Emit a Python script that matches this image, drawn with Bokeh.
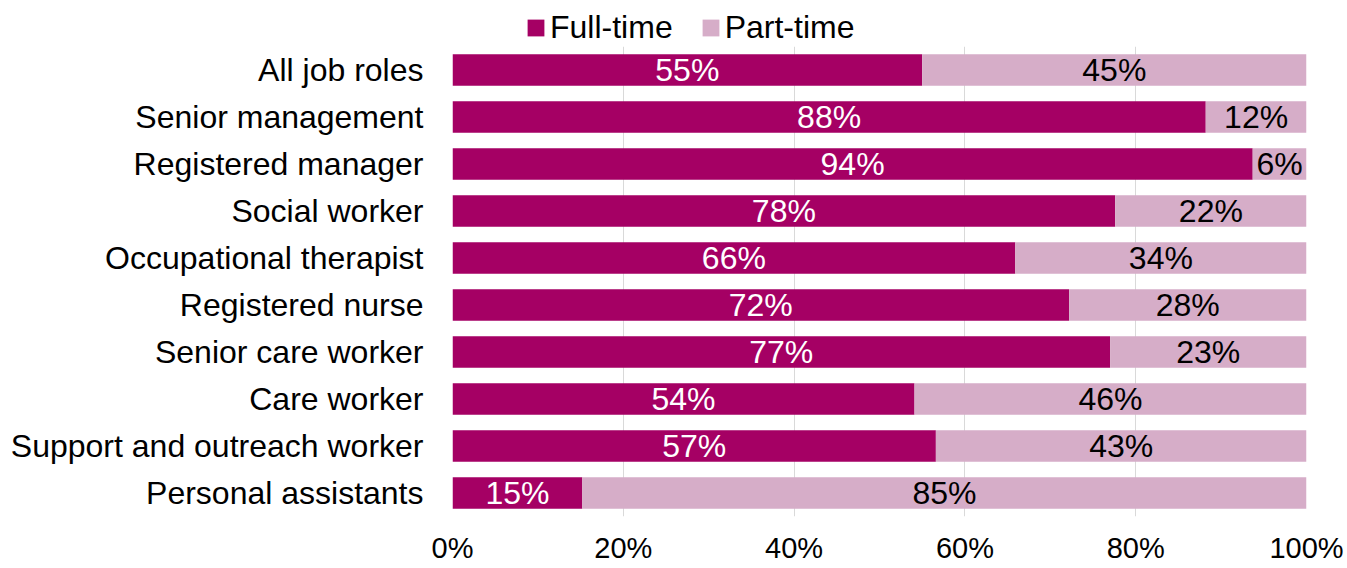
from bokeh.plotting import figure
from bokeh.layouts import column
from bokeh.models import FactorRange, Range1d, FixedTicker, Legend, LegendItem, ColumnDataSource
from bokeh.core.properties import value
from bokeh.embed import file_html
from bokeh.resources import INLINE

roles = ["All job roles", "Senior management", "Registered manager", "Social worker",
         "Occupational therapist", "Registered nurse", "Senior care worker", "Care worker",
         "Support and outreach worker", "Personal assistants"]
full_time = [55.0, 88.2, 93.7, 77.6, 65.9, 72.2, 77.0, 54.1, 56.6, 15.2]
part_time = [45.0, 11.8, 6.3, 22.4, 34.1, 27.8, 23.0, 45.9, 43.4, 84.8]
full_labels = ["55%", "88%", "94%", "78%", "66%", "72%", "77%", "54%", "57%", "15%"]
part_labels = ["45%", "12%", "6%", "22%", "34%", "28%", "23%", "46%", "43%", "85%"]
series_names = ["Full-time", "Part-time"]
tick_values = [0, 20, 40, 60, 80, 100]
tick_labels = ["0%", "20%", "40%", "60%", "80%", "100%"]

FULL_COLOR = "#A50064"
PART_COLOR = "#D6ADC8"
FONT = "Liberation Sans"

src = ColumnDataSource(dict(
    role=roles,
    ft_end=full_time,
    pt_end=[f + p for f, p in zip(full_time, part_time)],
    ft_mid=[f / 2 for f in full_time],
    pt_mid=[f + p / 2 for f, p in zip(full_time, part_time)],
    ft_lab=full_labels,
    pt_lab=part_labels,
))

# main chart
p = figure(width=1345, height=520, output_backend="svg", toolbar_location=None,
           y_range=FactorRange(factors=list(reversed(roles)), range_padding=0),
           x_range=Range1d(0, 100),
           min_border_left=452, min_border_right=39, min_border_top=0, min_border_bottom=44)
p.outline_line_color = None

p.hbar(y="role", left=0, right="ft_end", height=0.67, source=src,
       fill_color=FULL_COLOR, line_color=None)
p.hbar(y="role", left="ft_end", right="pt_end", height=0.67, source=src,
       fill_color=PART_COLOR, line_color=None)

p.text(x="ft_mid", y="role", text="ft_lab", source=src, text_align="center",
       text_baseline="middle", text_color="white", text_font=value(FONT), text_font_size="32px")
p.text(x="pt_mid", y="role", text="pt_lab", source=src, text_align="center",
       text_baseline="middle", text_color="black", text_font=value(FONT), text_font_size="32px")

p.xaxis.ticker = FixedTicker(ticks=tick_values)
p.xaxis.major_label_overrides = {v: l for v, l in zip(tick_values, tick_labels)}
for ax in (p.xaxis[0], p.yaxis[0]):
    ax.axis_line_color = None
    ax.major_tick_line_color = None
    ax.minor_tick_line_color = None
    ax.major_tick_in = 0
    ax.major_tick_out = 0
    ax.major_label_text_font = FONT
    ax.major_label_text_color = "black"
p.xaxis.major_label_text_font_size = "29px"
p.xaxis.major_label_standoff = 15
p.yaxis.major_label_text_font_size = "32px"
p.yaxis.major_label_standoff = 29

p.xgrid.grid_line_color = "#D9D9D9"
p.xgrid.grid_line_width = 1
p.ygrid.grid_line_color = None

# legend strip above the chart (its frame is aligned with the chart's frame)
pl = figure(width=1345, height=46, output_backend="svg", toolbar_location=None,
            x_range=Range1d(0, 1), y_range=Range1d(0, 1),
            min_border_left=452, min_border_right=39, min_border_top=0, min_border_bottom=0)
pl.axis.visible = False
pl.grid.visible = False
pl.outline_line_color = None
# placeholder glyphs kept outside the visible range; they only provide legend swatches
lf = pl.hbar(y=[-10], left=[0], right=[1], height=1, fill_color=FULL_COLOR, line_color=None)
lp = pl.hbar(y=[-10], left=[0], right=[1], height=1, fill_color=PART_COLOR, line_color=None)
legend = Legend(items=[LegendItem(label=series_names[0], renderers=[lf]),
                       LegendItem(label=series_names[1], renderers=[lp])],
                orientation="horizontal", location=(73, 0),
                border_line_color=None, background_fill_alpha=0,
                label_text_font=FONT, label_text_font_size="32px", label_text_color="black",
                glyph_width=21, glyph_height=21, label_standoff=4, spacing=27,
                padding=0, margin=0)
pl.add_layout(legend, "center")

layout = column(pl, p, spacing=0)
open("out.html", "w").write(file_html(layout, INLINE))
